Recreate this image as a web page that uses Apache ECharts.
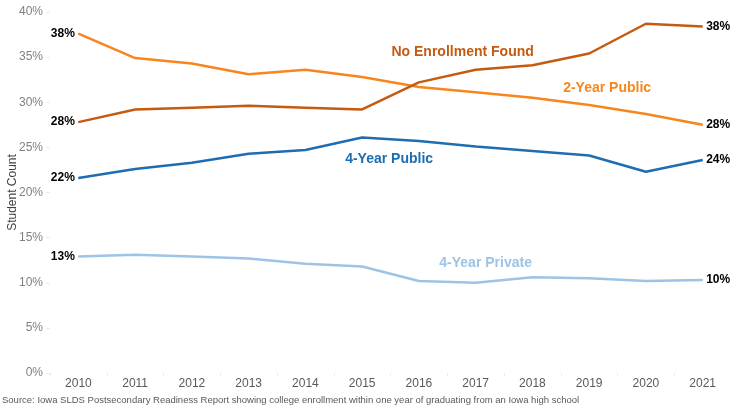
<!DOCTYPE html>
<html>
<head>
<meta charset="utf-8">
<script src="https://cdn.jsdelivr.net/npm/echarts@6/dist/echarts.min.js"></script>
<style>
  html, body { margin: 0; padding: 0; background: #fff; }
  #chart { width: 731px; height: 408px; }
</style>
</head>
<body>
<div id="chart"></div>
<script>
const years = ["2010", "2011", "2012", "2013", "2014", "2015", "2016", "2017", "2018", "2019", "2020", "2021"];
const twoYearPublic = [37.6, 34.9, 34.3, 33.1, 33.6, 32.8, 31.7, 31.1, 30.5, 29.7, 28.7, 27.5];
const noEnrollment = [27.8, 29.2, 29.4, 29.6, 29.4, 29.2, 32.2, 33.6, 34.1, 35.4, 38.7, 38.4];
const fourYearPublic = [21.6, 22.6, 23.3, 24.3, 24.7, 26.1, 25.7, 25.1, 24.6, 24.1, 22.3, 23.6];
const fourYearPrivate = [12.9, 13.1, 12.9, 12.7, 12.1, 11.8, 10.2, 10.0, 10.6, 10.5, 10.2, 10.3];
const yTicks = { min: 0, max: 40, interval: 5 };

const font = "Liberation Sans, Arial, sans-serif";

// name label sits on one point of each line
function makeSeries(name, values, color, nameIdx, nameOffset) {
  const last = values.length - 1;
  return {
    name: name,
    type: "line",
    data: values.map((v, i) => {
      const item = { value: v };
      if (i === 0 || i === last) {
        item.label = {
          show: true,
          position: i === 0 ? "left" : "right",
          distance: 3,
          formatter: (p) => Math.round(p.value) + "%",
          color: "#000",
          fontWeight: "bold",
          fontSize: 12,
          fontFamily: font,
        };
      } else if (i === nameIdx) {
        item.label = {
          show: true,
          position: "inside",
          offset: nameOffset,
          formatter: name,
          color: color,
          fontWeight: "bold",
          fontSize: 14,
          fontFamily: font,
        };
      }
      return item;
    }),
    showSymbol: true,
    symbol: "circle",
    symbolSize: 1,
    lineStyle: { color: color, width: 2.5 },
    itemStyle: { color: color },
    emphasis: { disabled: true },
    z: 2,
  };
}

const chart = echarts.init(document.getElementById("chart"));
chart.setOption({
  backgroundColor: "#fff",
  animation: false,
  textStyle: { fontFamily: font },
  grid: { left: 50, right: 0, top: 12, bottom: 35, outerBoundsMode: "none", containLabel: false },
  xAxis: {
    type: "category",
    data: years,
    boundaryGap: true,
    axisLine: { show: false },
    axisTick: { show: true, lineStyle: { color: "#ececec" }, length: 3 },
    axisLabel: { color: "#595959", fontSize: 12, margin: 5, fontFamily: font },
  },
  yAxis: {
    type: "value",
    min: yTicks.min,
    max: yTicks.max,
    interval: yTicks.interval,
    name: "Student Count",
    nameLocation: "middle",
    nameGap: 31,
    nameMoveOverlap: false,
    nameTextStyle: { color: "#404040", fontSize: 12, fontFamily: font },
    axisLine: { show: false },
    axisTick: { show: true, lineStyle: { color: "#ececec" }, length: 4 },
    splitLine: { show: false },
    axisLabel: { color: "#808080", fontSize: 12, formatter: "{value}%", margin: 7, fontFamily: font },
  },
  series: [
    makeSeries("2-Year Public", twoYearPublic, "#F7861E", 9, [18, -17]),
    makeSeries("No Enrollment Found", noEnrollment, "#C55A11", 7, [-13, -18]),
    makeSeries("4-Year Public", fourYearPublic, "#1F6DB1", 5, [27, 22]),
    makeSeries("4-Year Private", fourYearPrivate, "#9DC3E6", 7, [10, -20]),
  ],
  graphic: [{
    type: "text",
    left: 2,
    bottom: 3,
    style: {
      text: "Source: Iowa SLDS Postsecondary Readiness Report showing college enrollment within one year of graduating from an Iowa high school",
      fill: "#595959",
      font: "9.5px " + font,
    },
  }],
});
</script>
</body>
</html>
